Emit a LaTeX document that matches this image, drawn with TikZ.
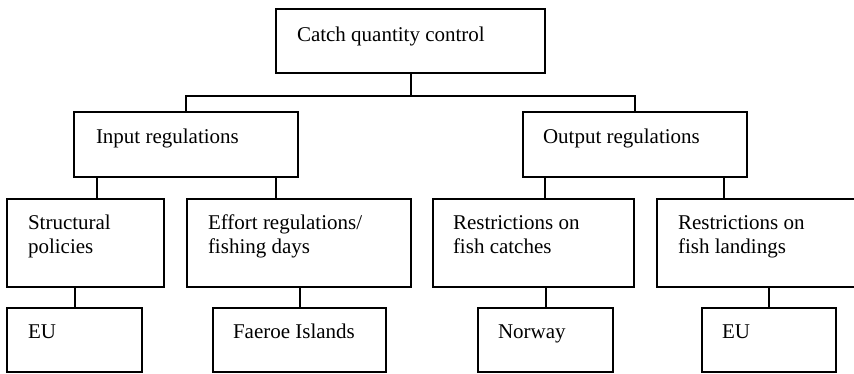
\documentclass[tikz,border=0pt]{standalone}
\usepackage{fontspec}
\setmainfont{Liberation Serif}
\newcommand{\twoln}[2]{\vtop{\hbox{#1}\hbox{#2}}}
\tikzset{
  box/.style={draw, line width=2pt, rectangle, inner sep=0pt, outer sep=0pt},
  lbl/.style={anchor=base west, inner sep=0pt, outer sep=0pt, font=\fontsize{21}{24}\selectfont},
  conn/.style={line width=2pt, line join=miter},
}
\begin{document}
\begin{tikzpicture}[x=1pt,y=-1pt]
\useasboundingbox (0,0) rectangle (854,373);
\clip (0,0) rectangle (854,373);

% level 1
\node[box, minimum width=269pt, minimum height=64pt] (top) at (410.5,41) {};
% level 2
\node[box, minimum width=224pt, minimum height=65pt] (input) at (186,144.5) {};
\node[box, minimum width=224pt, minimum height=65pt] (output) at (635,144.5) {};
% level 3
\node[box, minimum width=157pt, minimum height=88pt] (struct) at (85.5,243) {};
\node[box, minimum width=224pt, minimum height=88pt] (effort) at (299,243) {};
\node[box, minimum width=201pt, minimum height=88pt] (catch) at (533.5,243) {};
\node[box, minimum width=224pt, minimum height=88pt] (land) at (769,243) {};
% level 4
\node[box, minimum width=135pt, minimum height=64pt] (eua) at (74.5,340) {};
\node[box, minimum width=173pt, minimum height=64pt] (faeroe) at (299.5,340) {};
\node[box, minimum width=135pt, minimum height=64pt] (norway) at (545.5,340) {};
\node[box, minimum width=134pt, minimum height=64pt] (eub) at (769,340) {};

% labels
\node[lbl] (ttop) at (297,41) {Catch quantity control};
\node[lbl] (tinput) at (96,143) {Input regulations};
\node[lbl] (toutput) at (543,143) {Output regulations};
\node[lbl] (tstruct) at (28,229) {\twoln{Structural}{policies}};
\node[lbl] (teffort) at (208,229) {\twoln{Effort regulations/}{fishing days}};
\node[lbl] (tcatch) at (453,229) {\twoln{Restrictions on}{fish catches}};
\node[lbl] (tland) at (678,229) {\twoln{Restrictions on}{fish landings}};
\node[lbl] (teua) at (28,338) {EU};
\node[lbl] (tfaeroe) at (233,338) {Faeroe Islands};
\node[lbl] (tnorway) at (498,338) {Norway};
\node[lbl] (teub) at (722,338) {EU};

% connectors
\draw[conn] (top.south) -- ++(0,23) coordinate (j1);
\draw[conn] (input.north) |- (j1) -| (output.north);

\coordinate (ia) at ([xshift=23pt]input.south west);
\coordinate (ib) at ([xshift=-22pt]input.south east);
\coordinate (oa) at ([xshift=22pt]output.south west);
\coordinate (ob) at ([xshift=-23pt]output.south east);
\draw[conn] (ia) -- (ia |- struct.north);
\draw[conn] (ib) -- (ib |- effort.north);
\draw[conn] (oa) -- (oa |- catch.north);
\draw[conn] (ob) -- (ob |- land.north);

\draw[conn] (eua.north) -- (eua.north |- struct.south);
\draw[conn] (faeroe.north) -- (faeroe.north |- effort.south);
\draw[conn] (norway.north) -- (norway.north |- catch.south);
\draw[conn] (eub.north) -- (eub.north |- land.south);
\end{tikzpicture}
\end{document}
